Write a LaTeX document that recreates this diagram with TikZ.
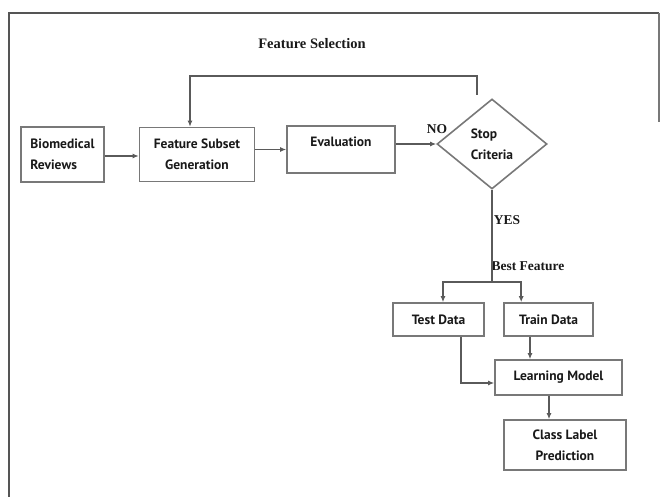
\documentclass[tikz,border=0pt]{standalone}
\usepackage{fontspec}
\setmainfont{Liberation Serif}
\newfontfamily\boxfont{PT Sans}
\usetikzlibrary{shapes.geometric,arrows.meta,calc}
\definecolor{linegray}{RGB}{90,90,90}
\definecolor{boxgray}{RGB}{120,120,120}
\definecolor{framegray}{RGB}{85,85,85}
\definecolor{textblack}{RGB}{25,25,25}
\begin{document}
\begin{tikzpicture}[x=1pt,y=-1pt,
  box/.style={draw=boxgray, line width=1.6pt, font=\boxfont\bfseries\fontsize{13.5}{21}\selectfont, text=textblack, inner sep=0pt},
  lbl/.style={font=\bfseries\fontsize{13.5}{16}\selectfont, text=textblack, inner sep=0pt},
  conn/.style={draw=linegray, line width=1.5pt},
  arr/.style={conn, -{Latex[length=6pt,width=5pt]}}]
\useasboundingbox (0,0) rectangle (662,497);
% frame
\draw[framegray, line width=2pt] (9,497) -- (9,13) -- (659,13);
\draw[boxgray, line width=1.5pt] (659,13) -- (659,122);
% title
\node[lbl, font=\bfseries\fontsize{14.5}{16}\selectfont] (title) at (312,44) {Feature Selection};
% top row
\node[box, minimum width=83pt, minimum height=55pt, align=left] (bio) at (62.5,154.5) {Biomedical\\Reviews};
\node[box, minimum width=115pt, minimum height=54pt, align=center] (fsg) at (197,154.5) {Feature Subset\\Generation};
\node[box, minimum width=108pt, minimum height=47pt, text height=10pt, text depth=16pt] (eval) at (341,149.5) {Evaluation};
\node[box, diamond, minimum width=110pt, minimum height=90pt, align=left] (stop) at (492,144) {Stop\\Criteria};
% lower part
\node[box, minimum width=91pt, minimum height=33pt] (test) at (438.5,319.5) {Test Data};
\node[box, minimum width=89pt, minimum height=33pt] (train) at (548.5,319.5) {Train Data};
\node[box, minimum width=127pt, minimum height=35pt] (learn) at (558.5,377.5) {Learning Model};
\node[box, minimum width=122pt, minimum height=50pt, align=center] (class) at (565,445) {Class Label\\Prediction};
% labels
\node[lbl] (no) at (437,129) {NO};
\node[lbl] (yes) at (507,220) {YES};
\node[lbl] (best) at (528,266) {Best Feature};
% connectors
\draw[arr] ([yshift=-1.5pt]bio.east) -- ([yshift=-1.5pt]fsg.west);
\draw[arr] (fsg.east |- eval.west) -- (eval.west);
\draw[arr] (eval.east |- stop.west) -- (stop.west);
\coordinate (ls) at (477,95);
\draw[arr] (ls) -- ++(0,-19) -| ([xshift=-7pt]fsg.north);
\coordinate (br) at (stop.south |- 0,282);
\draw[conn] (stop.south) -- (br);
\draw[arr] (br) -| ([xshift=4.5pt]test.north);
\draw[arr] (br) -| ([xshift=18pt]train.north west);
\draw[arr] ([xshift=-18.5pt]train.south) -- ([xshift=-18.5pt]train.south |- learn.north);
\draw[arr] ([xshift=22.5pt]test.south) |- ([yshift=-5.5pt]learn.west);
\draw[arr] ([xshift=-9.5pt]learn.south) -- ([xshift=-9.5pt]learn.south |- class.north);
\end{tikzpicture}
\end{document}
